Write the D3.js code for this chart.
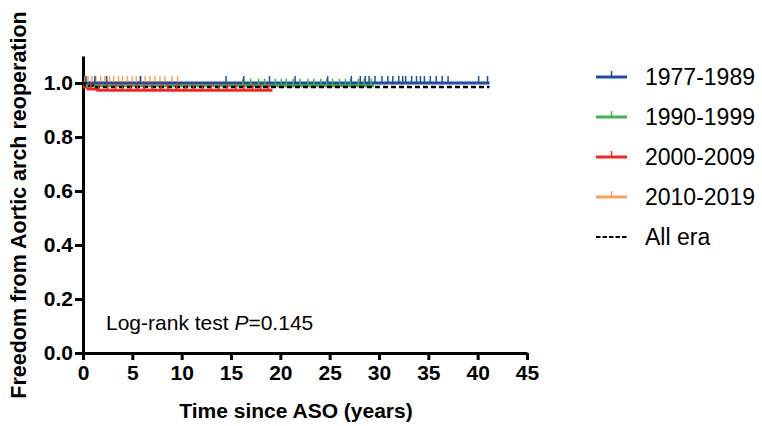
<!DOCTYPE html>
<html>
<head>
<meta charset="utf-8">
<script src="https://cdn.jsdelivr.net/npm/d3@7"></script>
<style>
  body { margin: 0; background: #fff; }
  svg text { font-family: Arial, "Liberation Sans", Helvetica, sans-serif; }
</style>
</head>
<body>
<div id="chart"></div>
<script>
// series / legend names
const seriesNames = ['1977-1989', '1990-1999', '2000-2009', '2010-2019'];
const allEraName = 'All era';

// step points [time, survival]
const blueSteps   = [[0, 1.0]];
const greenSteps  = [[0, 1.0], [0.4, 0.99]];
const redSteps    = [[0, 1.0], [0.15, 0.985], [0.5, 0.978], [1.5, 0.973]];
const orangeSteps = [[0, 1.0]];
const allSteps    = [[0, 1.0], [0.2, 0.99], [1.0, 0.985]];

// last follow-up per curve
const seriesEnds = [41.2, 29.5, 19.2, 9.6];
const allEnd = 41.2;

// censor marks (years)
const blueCensor = [0.3, 1.2, 2.4, 5.8, 14.5, 16.3, 18.9, 21.5, 24.8, 27.2, 28.1, 28.6, 29.0, 29.6, 30.3, 30.9,
  31.4, 32.0, 32.4, 32.7, 33.3, 33.8, 34.2, 34.6, 35.2, 35.8, 36.4, 37.0, 40.1, 41.0];
const greenCensor = [16.2, 17.0, 17.8, 18.4, 19.5, 20.1, 20.6, 21.3, 22.0, 22.8, 23.4, 24.1, 24.7, 25.3,
  26.0, 26.6, 27.1, 27.9, 28.5, 29.2];
const redCensor = [0.8, 1.6, 2.5, 3.3, 4.0, 4.8, 5.5, 6.2, 7.0, 7.9, 8.6, 9.5, 10.4, 11.2, 12.1, 13.0,
  13.8, 14.6, 15.5, 16.3, 17.2, 18.0, 18.8];
const orangeCensor = [0.2, 0.5, 0.9, 1.3, 1.8, 2.2, 2.7, 3.1, 3.6, 4.0, 4.5, 5.0, 5.4, 5.9, 6.3, 6.8,
  7.3, 7.8, 8.3, 9.0, 9.6];

// ticks
const xTicks = [0, 5, 10, 15, 20, 25, 30, 35, 40, 45];
const yTicks = [0, 0.2, 0.4, 0.6, 0.8, 1.0];

const colors = ['#1d4e9e', '#43b449', '#ee2a25', '#f8a25c'];

const width = 762, height = 426;
const svg = d3.select('#chart').append('svg')
    .attr('width', width)
    .attr('height', height);

const x = d3.scaleLinear().domain([0, 45]).range([83, 527]);
const y = d3.scaleLinear().domain([0, 1.1]).range([353, 353 - 270 * 1.1]);

// axes
const xAxis = svg.append('g')
    .attr('transform', `translate(0,${y(0)})`)
    .call(d3.axisBottom(x).tickValues(xTicks).tickSize(7).tickSizeOuter(0).tickFormat(d3.format('d')));
const yAxis = svg.append('g')
    .attr('transform', `translate(${x(0)},0)`)
    .call(d3.axisLeft(y).tickValues(yTicks).tickSize(8).tickSizeOuter(0).tickFormat(d3.format('.1f')));
[xAxis, yAxis].forEach(a => {
    a.select('.domain').attr('stroke', '#000').attr('stroke-width', 3);
    a.selectAll('.tick line').attr('stroke', '#000').attr('stroke-width', 3);
    a.selectAll('.tick text')
        .attr('fill', '#000')
        .attr('font-size', 21)
        .attr('font-weight', 'bold');
});
xAxis.selectAll('.tick text').attr('y', 27).attr('dy', 0);
yAxis.selectAll('.tick text').attr('x', -10);

svg.append('text')
    .attr('x', 296)
    .attr('y', 418)
    .attr('text-anchor', 'middle')
    .attr('font-size', 21)
    .attr('font-weight', 'bold')
    .text('Time since ASO (years)');

svg.append('text')
    .attr('transform', `translate(26,${205}) rotate(-90)`)
    .attr('text-anchor', 'middle')
    .attr('font-size', 21.5)
    .attr('font-weight', 'bold')
    .text('Freedom from Aortic arch reoperation');

const lr = svg.append('text')
    .attr('x', 106)
    .attr('y', 330)
    .attr('font-size', 21)
    .attr('fill', '#000');
lr.append('tspan').text('Log-rank test ');
lr.append('tspan').attr('font-style', 'italic').text('P');
lr.append('tspan').text('=0.145');

// step path builder
function stepPath(steps, end) {
    const pts = steps.map(d => [d[0], d[1]]);
    pts.push([end, steps[steps.length - 1][1]]);
    return d3.line().x(d => x(d[0])).y(d => y(d[1])).curve(d3.curveStepAfter)(pts);
}
function survAt(steps, t) {
    let s = steps[0][1];
    steps.forEach(d => { if (d[0] <= t) s = d[1]; });
    return s;
}

const curves = [
    {steps: blueSteps, end: seriesEnds[0], censor: blueCensor, color: colors[0]},
    {steps: greenSteps, end: seriesEnds[1], censor: greenCensor, color: colors[1]},
    {steps: redSteps, end: seriesEnds[2], censor: redCensor, color: colors[2]},
    {steps: orangeSteps, end: seriesEnds[3], censor: orangeCensor, color: colors[3]}
];
// draw order: red, green, orange, blue
const order = [2, 1, 3, 0];

const plot = svg.append('g');
order.forEach(i => {
    const c = curves[i];
    plot.append('path')
        .attr('d', stepPath(c.steps, c.end))
        .attr('fill', 'none')
        .attr('stroke', c.color)
        .attr('stroke-width', 3);
});
plot.append('path')
    .attr('d', stepPath(allSteps, allEnd))
    .attr('fill', 'none')
    .attr('stroke', '#000')
    .attr('stroke-width', 2.5)
    .attr('stroke-dasharray', '5,3');
order.forEach(i => {
    const c = curves[i];
    plot.selectAll(null)
        .data(c.censor)
        .join('line')
        .attr('x1', d => x(d)).attr('x2', d => x(d))
        .attr('y1', d => y(survAt(c.steps, d)) - 1)
        .attr('y2', d => y(survAt(c.steps, d)) - 7)
        .attr('stroke', c.color)
        .attr('stroke-width', 1.5);
});

// legend
const legend = svg.append('g').attr('transform', 'translate(596,0)');
const legendRows = seriesNames.map((n, i) => ({name: n, color: colors[i], dashed: false}))
    .concat([{name: allEraName, color: '#000', dashed: true}]);
const item = legend.selectAll('g')
    .data(legendRows)
    .join('g')
    .attr('transform', (d, i) => `translate(0,${77 + i * 40})`);
item.append('line')
    .attr('x1', 0).attr('x2', 31)
    .attr('stroke', d => d.color)
    .attr('stroke-width', d => d.dashed ? 2 : 3)
    .attr('stroke-dasharray', d => d.dashed ? '4.5,2' : null);
item.filter(d => !d.dashed).append('line')
    .attr('x1', 15.5).attr('x2', 15.5)
    .attr('y1', 0).attr('y2', -6)
    .attr('stroke', d => d.color)
    .attr('stroke-width', 1.5);
item.append('text')
    .attr('x', 49)
    .attr('dy', '0.35em')
    .attr('font-size', 23)
    .attr('fill', '#000')
    .text(d => d.name);
</script>
</body>
</html>
